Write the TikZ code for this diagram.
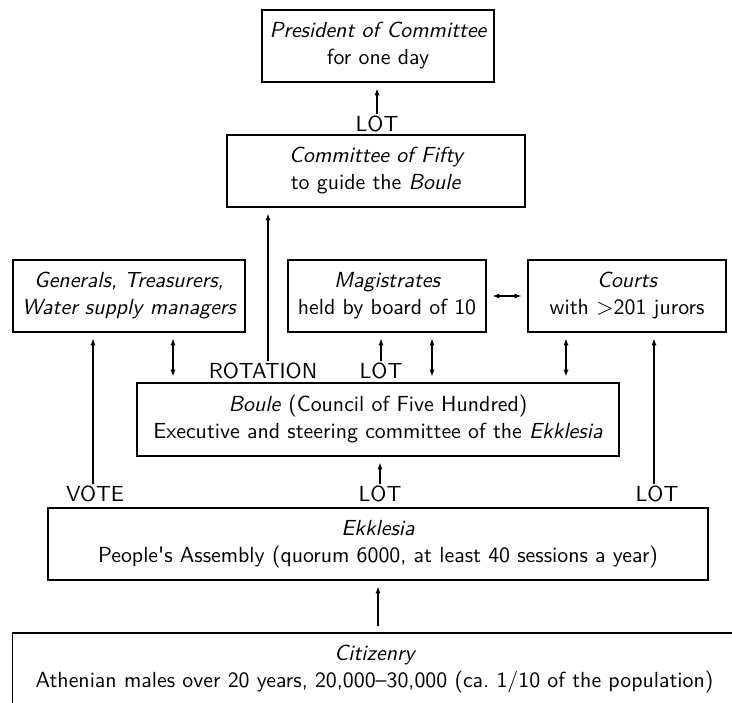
\documentclass[tikz,border=0pt]{standalone}
\usepackage{fontspec}
\usetikzlibrary{arrows.meta}
\newcommand{\px}{0.4444pt}
\newcommand{\boxfont}{\sffamily\fontsize{9.7}{12}\selectfont}
\tikzset{
  box/.style={draw, line width=0.6pt, align=center, inner sep=0pt, outer sep=2.9pt, font=\boxfont},
  lbl/.style={inner sep=0.5pt, font=\boxfont},
  link/.style={line width=0.5pt, -{Latex[length=3pt,width=2.2pt]}},
  both/.style={line width=0.5pt, {Latex[length=3pt,width=2.2pt]}-{Latex[length=3pt,width=2.2pt]}},
}
\begin{document}
\begin{tikzpicture}[x=\px, y=-\px]
  \useasboundingbox (0,0) rectangle (732,702);
  % boxes
  \node[box, minimum width=232*\px, minimum height=72*\px] (pres) at (378,46)
    {\itshape President of Committee\\for one day};
  \node[box, minimum width=298*\px, minimum height=72*\px] (fifty) at (376,171)
    {\itshape Committee of Fifty\\to guide the \textit{Boule}};
  \node[box, minimum width=232*\px, minimum height=72*\px] (gen) at (129,296)
    {\itshape Generals, Treasurers,\\\itshape Water supply managers};
  \node[box, minimum width=198*\px, minimum height=72*\px] (mag) at (387,296)
    {\itshape Magistrates\\held by board of 10};
  \node[box, minimum width=198*\px, minimum height=72*\px] (courts) at (627,296)
    {\itshape Courts\\with $>$201 jurors};
  \node[box, minimum width=482*\px, minimum height=73*\px] (boule) at (378,419.5)
    {\textit{Boule} (Council of Five Hundred)\\Executive and steering committee of the \textit{Ekklesia}};
  \node[box, minimum width=660*\px, minimum height=72*\px] (ekk) at (378,544)
    {\itshape Ekklesia\\People\textquotesingle s Assembly (quorum 6000, at least 40 sessions a year)};
  \node[box, minimum width=724*\px, minimum height=72*\px] (cit) at (374.5,669)
    {\itshape Citizenry\\Athenian males over 20 years, 20,000--30,000 (ca.\ 1/10 of the population)};
  % labels
  \node[lbl] (lot1) at (377,124) {LOT};
  \node[lbl] (rot) at (263,371) {ROTATION};
  \node[lbl] (lot2) at (381,371) {LOT};
  \node[lbl] (vote) at (95,494) {VOTE};
  \node[lbl] (lot3) at (380,494) {LOT};
  \node[lbl] (lot4) at (657,494) {LOT};
  \coordinate (xg) at (173,0);
  \coordinate (xm) at (432,0);
  \coordinate (xc) at (566,0);
  \coordinate (xr) at (268,0);
  % connectors
  \begin{scope}
    \draw[link] (lot1.north) -- (lot1.north |- pres.south);
    \draw[link] (rot.north -| xr) -- (xr |- fifty.south);
    \draw[link] (lot2.north) -- (lot2.north |- mag.south);
    \draw[both] (xg |- gen.south) -- (xg |- boule.north);
    \draw[both] (xm |- mag.south) -- (xm |- boule.north);
    \draw[both] (xc |- courts.south) -- (xc |- boule.north);
    \draw[both] (mag) -- (courts);
    \draw[link] ([xshift=-2*\px]vote.north) -- ([xshift=-2*\px]vote.north |- gen.south);
    \draw[link] (lot3.north) -- (lot3.north |- boule.south);
    \draw[link] ([xshift=-3*\px]lot4.north) -- ([xshift=-3*\px]lot4.north |- courts.south);
    \draw[link] (cit.north -| ekk.south) -- (ekk.south);
  \end{scope}
\end{tikzpicture}
\end{document}
